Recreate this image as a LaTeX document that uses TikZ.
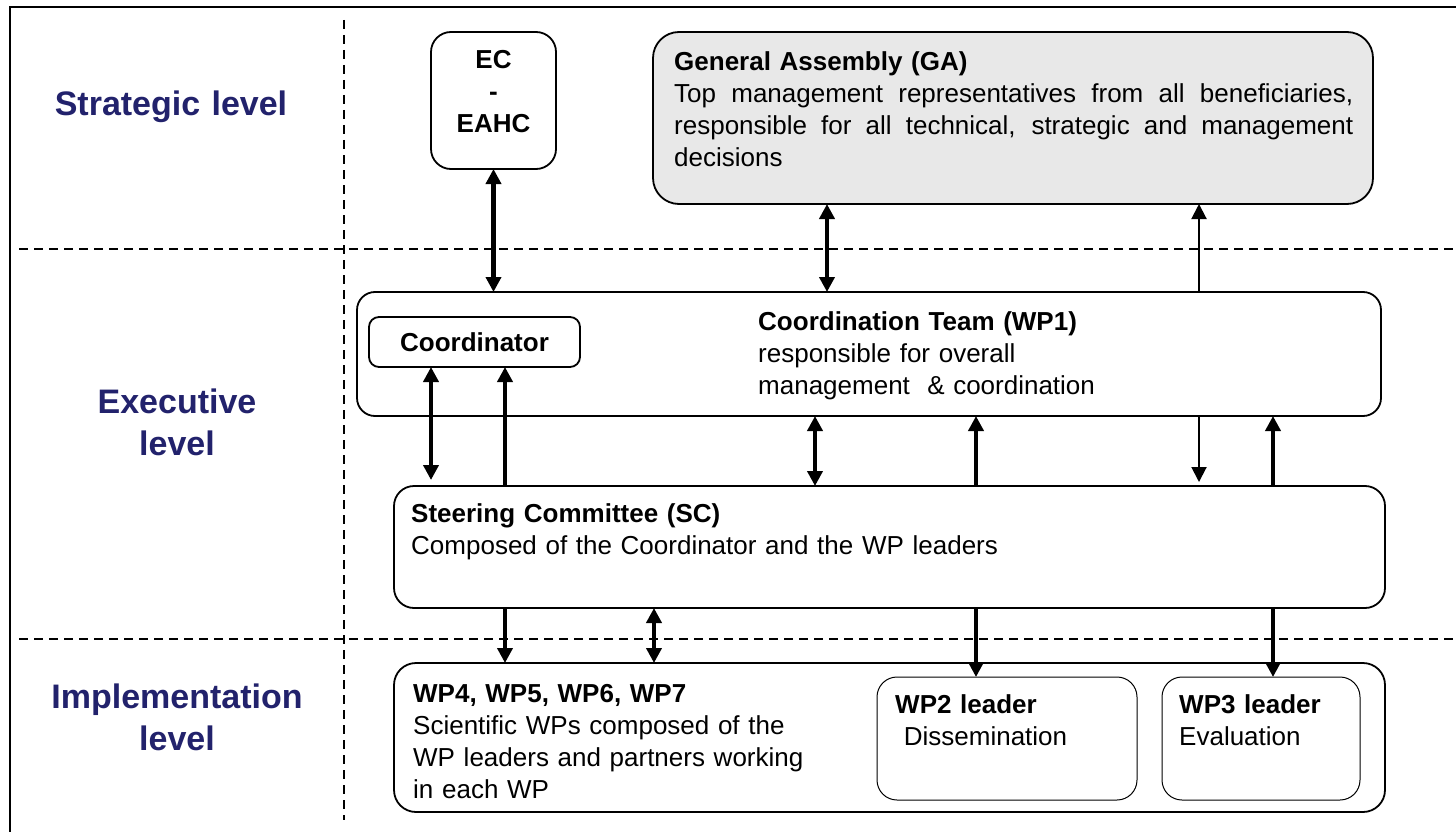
\documentclass[tikz,border=0pt]{standalone}
\usepackage{fontspec}
\setmainfont{Liberation Sans}
\usetikzlibrary{arrows.meta}
\definecolor{navy}{RGB}{34,34,108}
\definecolor{gafill}{RGB}{232,232,232}
\newcommand{\justline}[1]{\leavevmode\hbox to 679pt{\spaceskip=7.2pt plus 1fil\relax #1}}
\begin{document}
\begin{tikzpicture}[x=1pt,y=-1pt,
  >={Triangle[width=15pt,length=15pt]},
  box/.style={draw=black, line width=1.8pt, rounded corners=#1, anchor=north west, inner sep=0pt, outer sep=0pt},
  box/.default=20pt,
  subbox/.style={box=#1, line width=1pt},
  subbox/.default=20pt,
  txt/.style={anchor=base west, inner sep=0pt, align=left, text width=#1, font=\fontsize{26}{32}\selectfont},
  ctxt/.style={anchor=base, inner sep=0pt, align=center, text width=#1, font=\fontsize{26}{32}\selectfont\bfseries},
  lvl/.style={anchor=base, inner sep=0pt, align=center, text width=300pt, text=navy, font=\fontsize{34}{42}\selectfont\bfseries},
  thk/.style={line width=4.5pt},
  thn/.style={line width=2pt},
  sep/.style={line width=1.8pt, dash pattern=on 9pt off 6pt}
]
\useasboundingbox (0,0) rectangle (1456,832);
% frame
\draw[line width=2pt] (10,840) -- (10,7) -- (1470,7);
% separators
\draw[sep] (19,249) -- (1456,249);
\draw[sep] (19,639) -- (1456,639);
\draw[sep] (344,20) -- (344,820);
% level labels
\node[lvl] (lstr) at (171,116) {Strategic level};
\node[lvl] (lexe) at (177,413) {Executive\\level};
\node[lvl] (limp) at (177,708) {Implementation\\level};
% boxes
\node[box=20pt, minimum width=125pt, minimum height=137pt] (ec) at (431,32) {};
\node[box=26pt, fill=gafill, minimum width=720pt, minimum height=172pt] (ga) at (653,32) {};
\node[box=18pt, minimum width=1024pt, minimum height=124pt] (ct) at (357,292) {};
\node[box=10pt, minimum width=211pt, minimum height=50pt] (coord) at (369,317) {};
\node[box=20pt, minimum width=991pt, minimum height=122pt] (sc) at (394,486) {};
\node[box=22pt, minimum width=991pt, minimum height=149pt] (wp) at (394,663) {};
\node[subbox=20pt, minimum width=260pt, minimum height=123pt] (wp2) at (877,677) {};
\node[subbox=20pt, minimum width=198pt, minimum height=123pt] (wp3) at (1162,677) {};
% texts
\node[ctxt=125pt] (ectxt) at (493.5,69) {EC\\-\\EAHC};
\node[txt=690pt] (gatxt) at (674,71) {\textbf{General Assembly (GA)}\\
\justline{Top management representatives from all beneficiaries,}\\
\justline{responsible for all technical, strategic and management}\\
decisions};
\node[txt=400pt] (cttxt) at (758,330) {\textbf{Coordination Team (WP1)}\\
responsible for overall\\
management\ \ \&\ coordination};
\node[ctxt=211pt] (coordtxt) at (474.5,351) {Coordinator};
\node[txt=900pt] (sctxt) at (411,522) {\textbf{Steering Committee (SC)}\\
Composed of the Coordinator and the WP leaders};
\node[txt=440pt] (wptxt) at (413,702) {\textbf{WP4, WP5, WP6, WP7}\\
Scientific WPs composed of the\\
WP leaders and partners working\\
in each WP};
\node[txt=240pt] (wp2txt) at (895,713) {\textbf{WP2 leader}\\
\ Dissemination};
\node[txt=180pt] (wp3txt) at (1179,713) {\textbf{WP3 leader}\\
Evaluation};
% column coordinates
\coordinate (c827) at (827,0);
\coordinate (c1199) at (1199,0);
\coordinate (c431) at (431,0);
\coordinate (c505) at (505,0);
\coordinate (c815) at (815,0);
\coordinate (c976) at (976,0);
\coordinate (c1273) at (1273,0);
\coordinate (c654) at (654,0);
% connectors
\draw[thk,<->] (ec.south) -- (ec.south |- ct.north);
\draw[thk,<->] (c827 |- ga.south) -- (c827 |- ct.north);
\draw[thn,->] (c1199 |- ct.north) -- (c1199 |- ga.south);
\draw[thk,<->,shorten >=6pt] (c431 |- coord.south) -- (c431 |- sc.north);
\draw[thk,->] (c505 |- sc.north) -- (c505 |- coord.south);
\draw[thk,<->] (c815 |- ct.south) -- (c815 |- sc.north);
\draw[thk,->] (c976 |- sc.north) -- (c976 |- ct.south);
\draw[thn,->,shorten >=4pt] (c1199 |- ct.south) -- (c1199 |- sc.north);
\draw[thk,->] (c1273 |- sc.north) -- (c1273 |- ct.south);
\draw[thk,->] (c505 |- sc.south) -- (c505 |- wp.north);
\draw[thk,<->] (c654 |- sc.south) -- (c654 |- wp.north);
\draw[thk,->] (c976 |- sc.south) -- (c976 |- wp2.north);
\draw[thk,->] (c1273 |- sc.south) -- (c1273 |- wp3.north);
\end{tikzpicture}
\end{document}
